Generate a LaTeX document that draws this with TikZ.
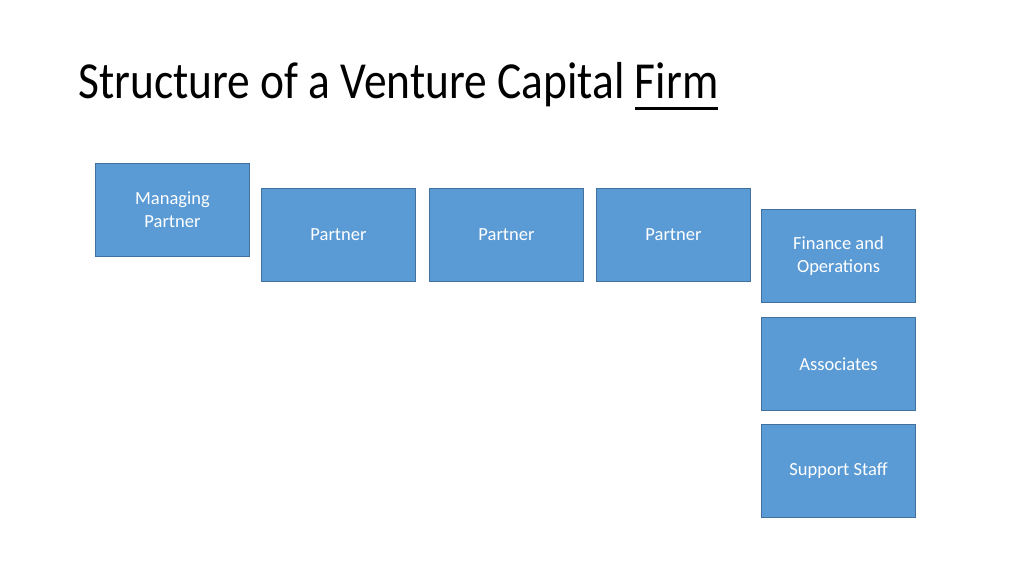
\documentclass[tikz,border=0pt]{standalone}
\usepackage{fontspec}
\usepackage{graphicx}
\setmainfont{Carlito}
\definecolor{boxfill}{HTML}{5B9BD5}
\definecolor{boxline}{HTML}{41719C}
\newcommand{\myul}[1]{\setbox0\hbox{#1}\rlap{\rule[-11.5pt]{\wd0}{2.5pt}}\box0}
\begin{document}
\begin{tikzpicture}[x=1pt,y=-1pt,
  orgbox/.style={draw=boxline, fill=boxfill, line width=1pt, minimum width=154pt, minimum height=93pt,
    inner sep=0pt, text=white, align=center, font=\fontsize{18.5}{23}\selectfont, anchor=north west}]
\useasboundingbox (0,0) rectangle (1024,576);
\fill[white] (0,0) rectangle (1024,576);
\node[anchor=base west, inner sep=0pt, font=\fontsize{52}{60}\selectfont] (title) at (78,98)
  {\scalebox{0.874}[1]{Structure of a Venture Capital \myul{Firm}}};
\node[orgbox] (mp) at (95,163) {\raisebox{-1.5pt}{Managing}\\\raisebox{-1.5pt}{Partner}};
\node[orgbox] (p1) at (261,188) {\raisebox{-1.5pt}{Partner}};
\node[orgbox] (p2) at (429,188) {\raisebox{-1.5pt}{Partner}};
\node[orgbox] (p3) at (596,188) {\raisebox{-1.5pt}{Partner}};
\node[orgbox] (fo) at (761,209) {\raisebox{-1.5pt}{Finance and}\\\raisebox{-1.5pt}{Operations}};
\node[orgbox] (as) at (761,317) {\raisebox{-1.5pt}{Associates}};
\node[orgbox] (ss) at (761,424) {\raisebox{-1.5pt}{Support Staff}};
\end{tikzpicture}
\end{document}
